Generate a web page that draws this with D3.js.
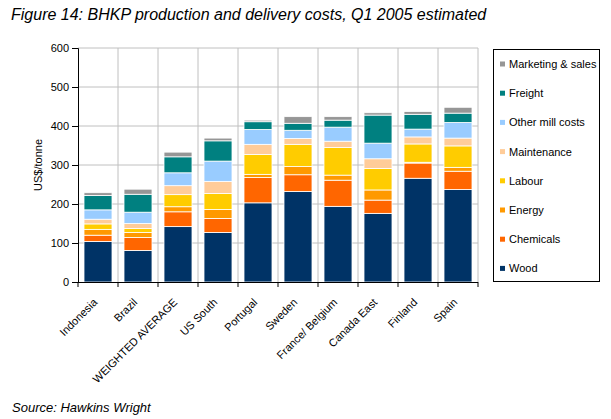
<!DOCTYPE html>
<html><head><meta charset="utf-8">
<script src="https://cdn.jsdelivr.net/npm/d3@7"></script>
<style>body{margin:0;background:#fff}svg{display:block;font-family:"Liberation Sans",Arial,sans-serif}</style>
</head><body>
<svg id="c" width="611" height="419"></svg>
<script>
const categories = ["Indonesia","Brazil","WEIGHTED AVERAGE","US South","Portugal","Sweden","France/ Belgium","Canada East","Finland","Spain"];
const seriesNames = ["Wood","Chemicals","Energy","Labour","Maintenance","Other mill costs","Freight","Marketing & sales"];
const seriesColors = ["#003366","#FF6600","#FF9900","#FFCC00","#FFCC99","#99CCFF","#008080","#969696"];
const wood        = [104, 81,142,127,203,232,194,176,266,237];
const chemicals   = [ 16, 33, 38, 36, 65, 43, 67, 34, 39, 47];
const energy      = [ 15, 13, 13, 23,  8, 21, 13, 26,  2, 10];
const labour      = [ 14, 10, 31, 41, 51, 57, 71, 55, 47, 55];
const maintenance = [ 12, 13, 23, 31, 26, 15, 16, 25, 18, 20];
const otherMill   = [ 24, 29, 33, 52, 38, 21, 36, 40, 20, 40];
const freight     = [ 37, 46, 41, 52, 20, 18, 18, 72, 38, 24];
const marketing   = [  7, 13, 12,  7,  4, 17,  9,  6,  7, 15];
const yTicks = [0,100,200,300,400,500,600];

const seriesValues = [wood,chemicals,energy,labour,maintenance,otherMill,freight,marketing];
const rows = categories.map((c,i)=>{const r={cat:c};seriesNames.forEach((s,j)=>r[s]=seriesValues[j][i]);return r;});
const stacked = d3.stack().keys(seriesNames)(rows);

const svg = d3.select("#c");
const L=78,R=478,T=48,B=282;
const x = d3.scaleBand().domain(categories).range([L,R]).paddingInner(0.3).paddingOuter(0.15);
const y = d3.scaleLinear().domain([0,600]).range([B,T]);

// title
svg.append("text").attr("x",11).attr("y",20).attr("font-style","italic").attr("font-size",16).attr("fill","#000")
  .text("Figure 14: BHKP production and delivery costs, Q1 2005 estimated");
svg.append("text").attr("x",12).attr("y",412).attr("font-style","italic").attr("font-size",13).attr("fill","#000")
  .text("Source: Hawkins Wright");

// gridlines
const g = svg.append("g");
g.selectAll(".hg").data(yTicks.filter(d=>d>0)).join("line")
  .attr("x1",L).attr("x2",R).attr("y1",d=>y(d)).attr("y2",d=>y(d)).attr("stroke","#c0c0c0").attr("stroke-width",1);
const bounds = categories.map((c,i)=>L+i*x.step()).concat([R]);
g.selectAll(".vg").data(bounds.slice(1)).join("line")
  .attr("x1",d=>d).attr("x2",d=>d).attr("y1",T).attr("y2",B).attr("stroke","#c0c0c0").attr("stroke-width",1);

// bars
svg.append("g").selectAll("g").data(stacked).join("g").attr("fill",(d,i)=>seriesColors[i])
  .selectAll("rect").data(d=>d).join("rect")
  .attr("x",d=>x(d.data.cat)).attr("width",x.bandwidth())
  .attr("y",d=>y(d[1])).attr("height",d=>Math.max(0,y(d[0])-y(d[1])))
  .attr("stroke","#fff").attr("stroke-width",0.8);

// y axis
const ya = svg.append("g").attr("transform",`translate(${L},0)`)
  .call(d3.axisLeft(y).tickValues(yTicks).tickSize(6).tickPadding(3));
ya.select(".domain").attr("stroke","#000");
ya.selectAll("line").attr("stroke","#000");
ya.selectAll("text").attr("font-size",11).attr("fill","#000").attr("font-family","Liberation Sans,Arial,sans-serif");

// x axis
svg.append("line").attr("x1",L).attr("x2",R).attr("y1",B+0.5).attr("y2",B+0.5).attr("stroke","#000");
svg.selectAll(".xt").data(bounds).join("line")
  .attr("x1",d=>d).attr("x2",d=>d).attr("y1",B).attr("y2",B+5).attr("stroke","#000");
svg.selectAll(".xl").data(categories).join("text")
  .attr("font-size",11).attr("fill","#000").attr("text-anchor","end")
  .attr("transform",d=>`translate(${x(d)+x.bandwidth()/2},${B+21}) rotate(-45)`)
  .text(d=>d);

// y label
svg.append("text").attr("transform",`translate(42,${(T+B)/2}) rotate(-90)`).attr("text-anchor","middle")
  .attr("font-size",11).attr("fill","#000").text("US$/tonne");

// legend
svg.append("rect").attr("x",493.5).attr("y",49.5).attr("width",106).attr("height",232)
  .attr("fill","#fff").attr("stroke","#000");
const leg = svg.append("g").selectAll("g").data(seriesNames.slice().reverse()).join("g")
  .attr("transform",(d,i)=>`translate(500,${64+i*29.2})`);
leg.append("rect").attr("x",0).attr("y",-2.5).attr("width",5).attr("height",5)
  .attr("fill",d=>seriesColors[seriesNames.indexOf(d)]);
leg.append("text").attr("x",9).attr("y",4).attr("font-size",11).attr("fill","#000").text(d=>d);
</script>
</body></html>
